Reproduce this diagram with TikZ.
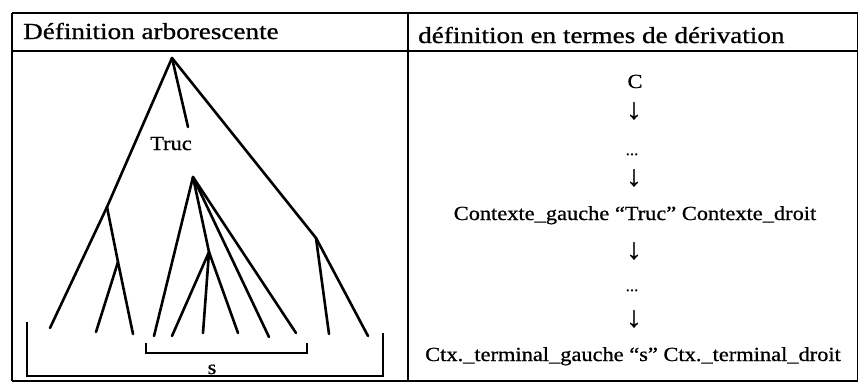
\documentclass[tikz,border=0pt]{standalone}
\usepackage{fontspec}
\setmainfont{Liberation Serif}
\newfontfamily\hdfont[FakeStretch=1.18,FakeBold=0.8]{Liberation Serif}
\newfontfamily\bdfont[FakeStretch=1.12,FakeBold=0.8]{Liberation Serif}
\tikzset{
  tline/.style={line width=2.6pt, line cap=round},
  rule/.style={line width=2.2pt},
  hd/.style={font=\hdfont\fontsize{23}{27}\selectfont, inner sep=0pt, anchor=base west},
  bd/.style={font=\bdfont\fontsize{20}{24}\selectfont, inner sep=0pt},
  arr/.style={font=\bdfont\fontsize{29}{32}\selectfont, inner sep=0pt, anchor=center},
  dotsty/.style={font=\bdfont\fontsize{15}{18}\selectfont, inner sep=0pt, anchor=base},
}
\begin{document}
\begin{tikzpicture}[x=1pt, y=-1pt]
\useasboundingbox (0,0) rectangle (859,388);
% table
\draw[rule] (12,13) -- (858,13);
\draw[rule] (12,51) -- (858,51);
\draw[rule] (12,381) -- (858,381);
\draw[rule] (12,13) -- (12,381);
\draw[rule] (408,13) -- (408,381);
\draw[line width=0.8pt] (857.5,13) -- (857.5,381);
% headers
\node[hd] (h1) at (23,39) {Définition arborescente};
\node[hd] (h2) at (418,43) {définition en termes de dérivation};
% tree coordinates
\coordinate (R) at (172,58);
\coordinate (T) at (188,127);
\coordinate (L) at (107,207);
\coordinate (Lf1) at (50,328);
\coordinate (LL) at (118,262);
\coordinate (LLf1) at (96,332);
\coordinate (LLf2) at (133,334);
\coordinate (Rn) at (316,238);
\coordinate (Rnf1) at (329,334);
\coordinate (Rnf2) at (368,336);
\coordinate (S) at (193,177);
\coordinate (Sf1) at (154,336);
\coordinate (Sf2) at (269,337);
\coordinate (Sf3) at (296,333);
\coordinate (SS) at (209,252);
\coordinate (SSf1) at (172,336);
\coordinate (SSf2) at (203,333);
\coordinate (SSf3) at (238,333);
% tree edges
\draw[tline] (R) -- (T);
\draw[tline] (R) -- (L);
\draw[tline] (R) -- (Rn);
\draw[tline] (L) -- (Lf1);
\draw[tline] (L) -- (LL);
\draw[tline] (LL) -- (LLf1);
\draw[tline] (LL) -- (LLf2);
\draw[tline] (Rn) -- (Rnf1);
\draw[tline] (Rn) -- (Rnf2);
\draw[tline] (S) -- (Sf1);
\draw[tline] (S) -- (SS);
\draw[tline] (S) -- (Sf2);
\draw[tline] (S) -- (Sf3);
\draw[tline] (SS) -- (SSf1);
\draw[tline] (SS) -- (SSf2);
\draw[tline] (SS) -- (SSf3);
\node[bd, anchor=base] (truc) at (171,150) {Truc};
% brackets
\coordinate (B1) at (27,322);
\coordinate (B2) at (27,376);
\coordinate (B3) at (383,376);
\coordinate (B4) at (383,333);
\draw[tline, line cap=butt] (B1) -- (B2) -- (B3) -- (B4);
\coordinate (b1) at (146,343);
\coordinate (b2) at (146,353);
\coordinate (b3) at (307,353);
\coordinate (b4) at (307,343);
\draw[tline, line cap=butt] (b1) -- (b2) -- (b3) -- (b4);
\node[bd, anchor=base] (s) at (212,374) {s};
% derivation column
\node[bd, anchor=base] (c) at (635,88) {C};
\node[arr] (a1) at (634,111) {↓};
\node[dotsty] (d1) at (632,155) {...};
\node[arr] (a2) at (634,178) {↓};
\node[bd, anchor=base] (ctx) at (635,220) {Contexte\_gauche “Truc” Contexte\_droit};
\node[arr] (a3) at (634,251) {↓};
\node[dotsty] (d2) at (632,291) {...};
\node[arr] (a4) at (634,319) {↓};
\node[bd, anchor=base] (term) at (633,361) {Ctx.\_terminal\_gauche “s” Ctx.\_terminal\_droit};
\end{tikzpicture}
\end{document}
